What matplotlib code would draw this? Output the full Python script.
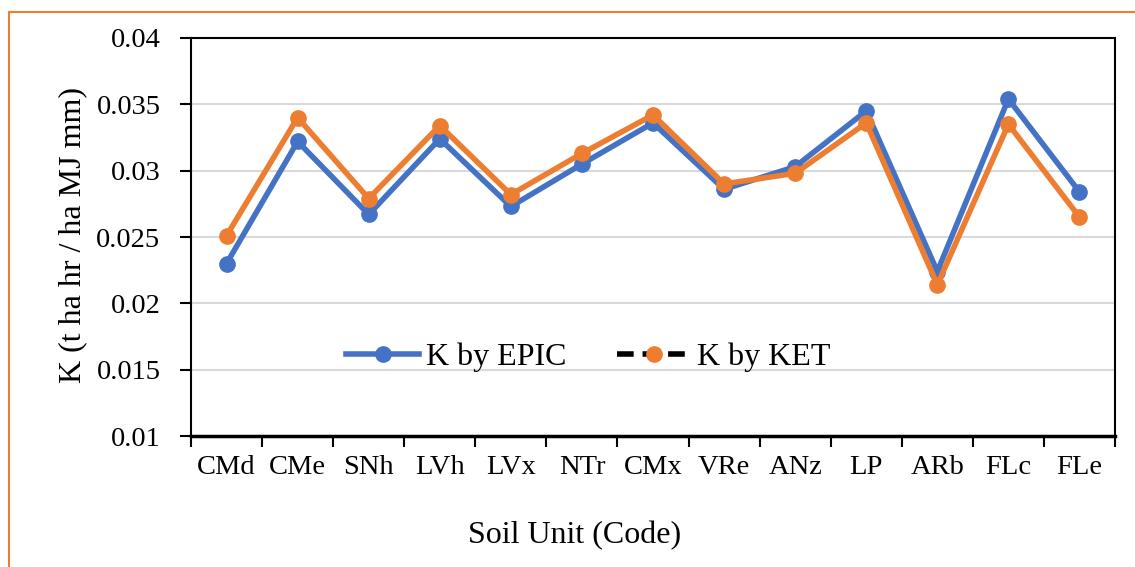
import numpy as np
import matplotlib
matplotlib.use("Agg")
import matplotlib.pyplot as plt
from matplotlib.lines import Line2D
from matplotlib.patches import Rectangle

soil_units = ["CMd", "CMe", "SNh", "LVh", "LVx", "NTr", "CMx",
              "VRe", "ANz", "LP", "ARb", "FLc", "FLe"]
k_epic = [0.0230, 0.0322, 0.0267, 0.0324, 0.0273, 0.0305, 0.0336,
          0.0286, 0.0303, 0.0345, 0.0224, 0.0354, 0.0284]
k_ket = [0.0251, 0.0340, 0.0279, 0.0334, 0.0282, 0.0313, 0.0342,
         0.0290, 0.0298, 0.0336, 0.0214, 0.0335, 0.0265]
y_ticks = [0.01, 0.015, 0.02, 0.025, 0.03, 0.035, 0.04]
y_tick_labels = ["0.01", "0.015", "0.02", "0.025", "0.03", "0.035", "0.04"]

blue = "#4472C4"
orange = "#ED7D31"

plt.rcParams["font.family"] = ["Liberation Serif", "DejaVu Serif"]
plt.rcParams["font.size"] = 20.5

fig = plt.figure(figsize=(11.35, 5.67), dpi=100)
ax = fig.add_axes([0.1683, 0.231, 0.8141, 0.702])

x = np.arange(len(soil_units))
ax.plot(x, k_epic, color=blue, lw=4, marker="o", ms=11, zorder=3)
ax.plot(x, k_ket, color=orange, lw=4, marker="o", ms=11, zorder=4)

ax.set_xlim(-0.5, len(soil_units) - 0.5)
ax.set_ylim(0.01, 0.04)
ax.set_yticks(y_ticks)
ax.set_yticklabels(y_tick_labels)
ax.set_xticks(x)
ax.set_xticklabels(soil_units)
ax.set_xticks(np.arange(-0.5, len(soil_units)), minor=True)
ax.tick_params(axis="x", which="major", length=0, pad=14)
ax.tick_params(axis="x", which="minor", length=8, width=1.5, direction="out")
ax.tick_params(axis="y", length=8, width=1.5, direction="out", pad=14)

ax.grid(axis="y", color="#D9D9D9", lw=1.5, zorder=0)
for side in ["top", "right", "left"]:
    ax.spines[side].set_linewidth(1.5)
ax.spines["bottom"].set_linewidth(2.5)
ax.spines["bottom"].set_zorder(5)

ax.set_xlabel("Soil Unit (Code)", fontsize=23, va="center")
ax.xaxis.set_label_coords(0.4156, -0.249)
ax.set_ylabel("K (t ha hr / ha MJ mm)", fontsize=23, va="center")
ax.yaxis.set_label_coords(-0.1277, 0.505)

handles = [
    Line2D([], [], color=blue, lw=4, marker="o", ms=11),
    Line2D([], [], color="black", lw=4, ls=(0, (3, 1.6)), marker="o", ms=11,
           markerfacecolor=orange, markeredgecolor=orange),
]
ax.legend(handles, ["K by EPIC", "K by KET"], loc="center",
          bbox_to_anchor=(0.43, 0.198), ncol=2, frameon=False, fontsize=23,
          handlelength=2.3, handletextpad=0.2, columnspacing=1.6)

fig.patches.append(Rectangle((9 / 1135, -0.1), 1.2, 1.1 - 12 / 567,
                             transform=fig.transFigure, fill=False,
                             edgecolor=orange, lw=1.5, zorder=0))

fig.savefig("out.png", dpi=100)
